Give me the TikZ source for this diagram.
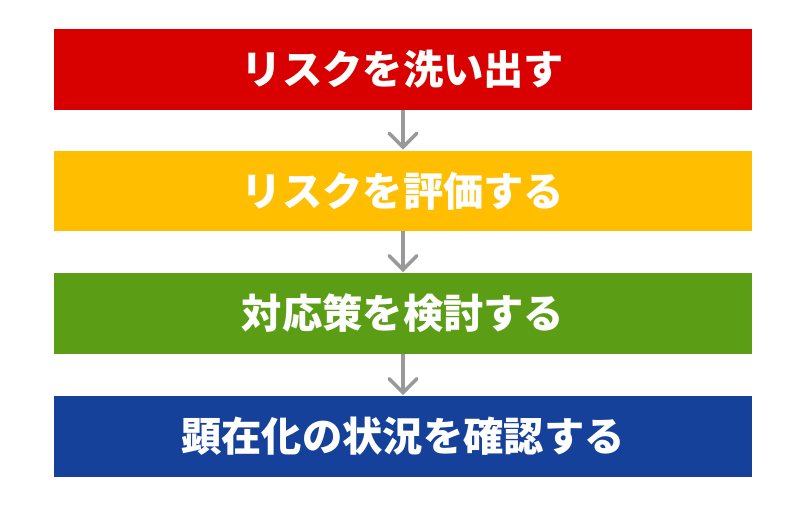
\documentclass[tikz,border=0pt]{standalone}
\usepackage{fontspec}
\setmainfont{Noto Sans CJK JP}
\usetikzlibrary{arrows.meta}
\definecolor{cred}{HTML}{D90000}
\definecolor{cyellow}{HTML}{FFBE00}
\definecolor{cgreen}{HTML}{5B9E15}
\definecolor{cblue}{HTML}{15419B}
\definecolor{carrow}{HTML}{999999}
\begin{document}
\begin{tikzpicture}[x=1pt,y=1pt,
  stepbox/.style={minimum width=698pt,minimum height=80.5pt,inner sep=0pt,text=white,
    font=\fontsize{40.3}{40}\selectfont\bfseries},
  flow/.style={draw=carrow,line width=3.5pt,-{Straight Barb[length=14pt,width=28pt,line cap=round]}, shorten >=1pt}]
\useasboundingbox (0,0) rectangle (808,506);
\node[stepbox,fill=cred] (s1) at (403,436.5) {リスクを洗い出す};
\node[stepbox,fill=cyellow] (s2) at (403,315) {リスクを評価する};
\node[stepbox,fill=cgreen] (s3) at (403,192.5) {対応策を検討する};
\node[stepbox,fill=cblue] (s4) at (403,69.5) {顕在化の状況を確認する};
\draw[flow] (s1.south) -- (s2.north);
\draw[flow] (s2.south) -- (s3.north);
\draw[flow] (s3.south) -- (s4.north);
\end{tikzpicture}
\end{document}
